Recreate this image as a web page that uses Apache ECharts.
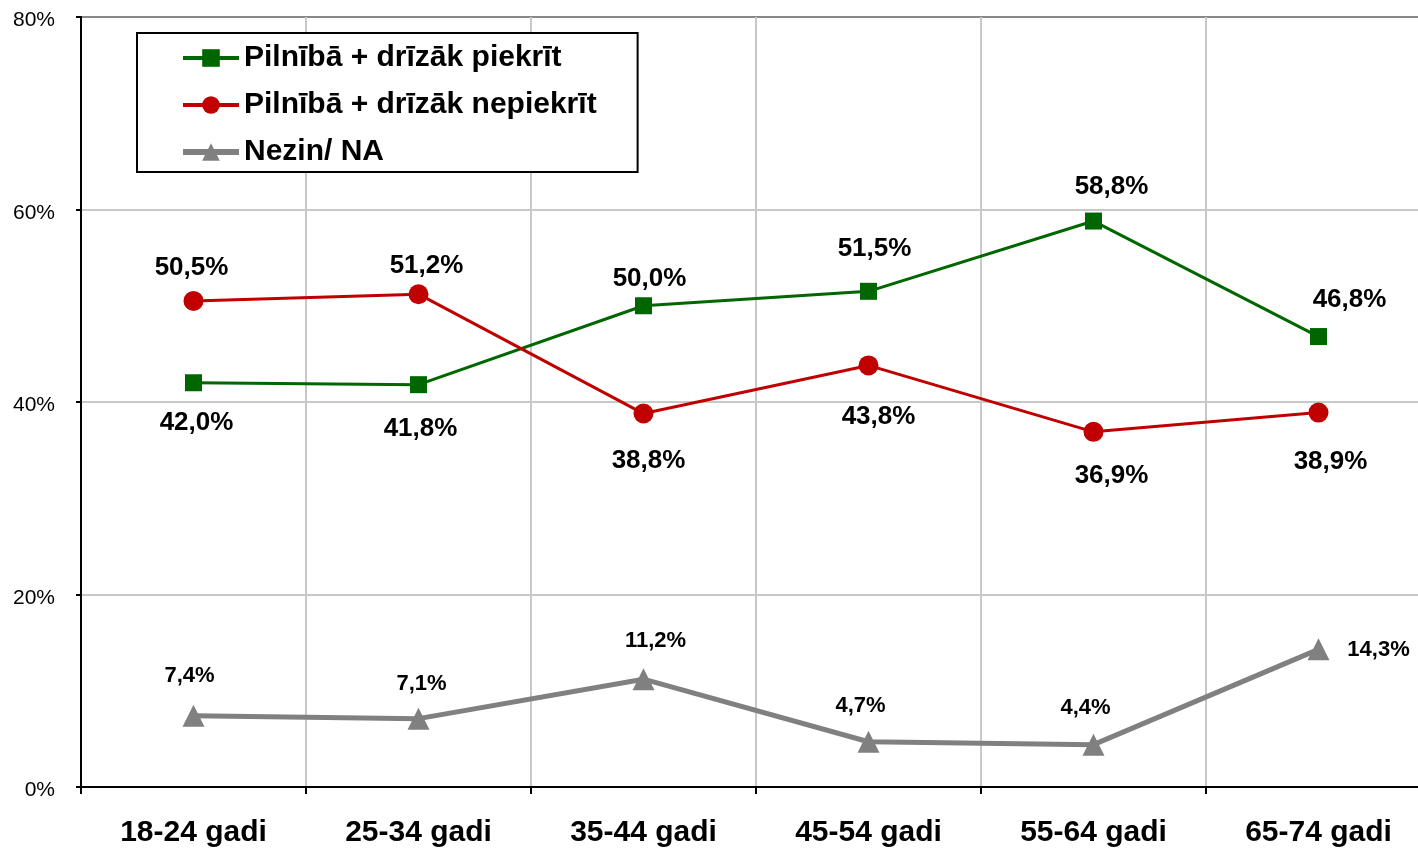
<!DOCTYPE html>
<html>
<head>
<meta charset="utf-8">
<script src="https://cdn.jsdelivr.net/npm/echarts@6/dist/echarts.min.js"></script>
<style>html,body{margin:0;padding:0;background:#fff;overflow:hidden;width:1418px;height:848px}#c{width:1431px;height:848px}</style>
</head>
<body>
<div id="c"></div>
<script>
var categories = ['18-24 gadi','25-34 gadi','35-44 gadi','45-54 gadi','55-64 gadi','65-74 gadi'];
var seriesNames = ['Pilnībā + drīzāk piekrīt','Pilnībā + drīzāk nepiekrīt','Nezin/ NA'];
var agreeValues = [42.0, 41.8, 50.0, 51.5, 58.8, 46.8];
var disagreeValues = [50.5, 51.2, 38.8, 43.8, 36.9, 38.9];
var unknownValues = [7.4, 7.1, 11.2, 4.7, 4.4, 14.3];
var yTicks = [0, 20, 40, 60, 80];

// label offsets (style, not data)
var agreeOffsets = [[3,40],[2,44],[6,-27],[6,-42],[18,-34],[31,-37]];
var disagreeOffsets = [[-2,-33],[8,-28],[5,47],[10,51],[18,44],[12,49]];
var unknownOffsets = [[-4,-40],[3,-35],[12,-38],[-8,-36],[-8,-37],[60,1]];

var FONT = 'Liberation Sans, Arial, sans-serif';
function fmt(v){ return v.toFixed(1).replace('.', ',') + '%'; }
function build(values, offsets, fontSize){
  return values.map(function(v,i){
    return {value: v, label: {show: true, position: 'inside', offset: offsets[i],
      formatter: fmt(v), fontSize: fontSize, fontWeight: 'bold', color: '#000',
      fontFamily: FONT}};
  });
}

var chart = echarts.init(document.getElementById('c'), null, {renderer: 'canvas'});
chart.setOption({
  animation: false,
  backgroundColor: '#fff',
  grid: {left: 81, top: 17, right: 0, bottom: 60, containLabel: false},
  legend: {
    orient: 'vertical', left: 137, top: 33,
    data: [
      {name: seriesNames[0], lineStyle: {width: 4}},
      {name: seriesNames[1], lineStyle: {width: 4}},
      {name: seriesNames[2], lineStyle: {width: 6}}
    ],
    backgroundColor: '#fff',
    borderColor: '#000', borderWidth: 2,
    padding: [10, 41, 5, 43],
    itemWidth: 56, itemHeight: 22, itemGap: 17,
    textStyle: {fontSize: 30, lineHeight: 30, fontWeight: 'bold', color: '#000', fontFamily: FONT}
  },
  xAxis: {
    type: 'category', data: categories, boundaryGap: true,
    axisLine: {lineStyle: {color: '#000', width: 2}},
    axisTick: {show: true, length: 7, lineStyle: {color: '#000', width: 2}},
    splitLine: {show: true, lineStyle: {color: '#c8c8c8', width: 2}},
    axisLabel: {fontSize: 30, fontWeight: 'bold', color: '#000', margin: 31, fontFamily: FONT}
  },
  yAxis: {
    type: 'value', min: yTicks[0], max: yTicks[yTicks.length-1], interval: 20,
    axisLine: {show: true, lineStyle: {color: '#000', width: 2}},
    axisTick: {show: true, length: 5, lineStyle: {color: '#000', width: 2}},
    splitLine: {show: true, lineStyle: {color: ['#c8c8c8','#c8c8c8','#c8c8c8','#c8c8c8','#888888'], width: 2}},
    axisLabel: {fontSize: 21, color: '#000', margin: 26, formatter: '{v|{value}%}', fontFamily: FONT,
      rich: {v: {fontSize: 21, color: '#000', fontFamily: FONT, padding: [7, 0, 0, 0]}}}
  },
  series: [
    {name: seriesNames[0], type: 'line', data: build(agreeValues, agreeOffsets, 26),
     symbol: 'rect', symbolSize: 17, itemStyle: {color: '#006600'},
     lineStyle: {color: '#006600', width: 3}, z: 3},
    {name: seriesNames[1], type: 'line', data: build(disagreeValues, disagreeOffsets, 26),
     symbol: 'circle', symbolSize: 20, itemStyle: {color: '#c00000'},
     lineStyle: {color: '#c00000', width: 3}, z: 3},
    {name: seriesNames[2], type: 'line', data: build(unknownValues, unknownOffsets, 22),
     symbol: 'triangle', symbolSize: 22, itemStyle: {color: '#808080'},
     lineStyle: {color: '#808080', width: 5}, z: 3}
  ]
});
</script>
</body>
</html>
